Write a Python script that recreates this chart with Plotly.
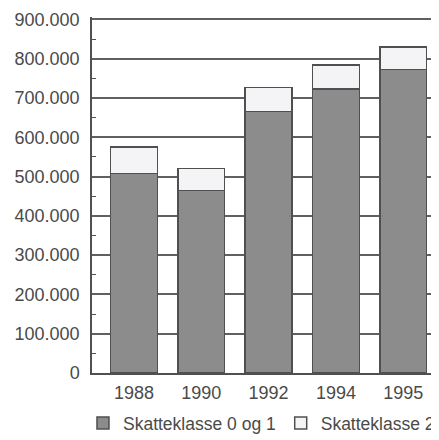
import plotly.graph_objects as go

years = ["1988", "1990", "1992", "1994", "1995"]
klasse_0_og_1 = [508000, 464000, 665000, 723000, 772000]
klasse_2 = [67000, 56000, 62000, 61000, 58000]
series_names = ["Skatteklasse 0 og 1", "Skatteklasse 2"]

dark = "#8c8c8c"
light = "#f4f4f6"
edge = "#505050"
txt = "#4a4a4a"
FONT = "Liberation Sans, Arial, Helvetica, sans-serif"

fig = go.Figure()
fig.add_trace(go.Bar(x=years, y=klasse_0_og_1, name=series_names[0], width=0.694,
                     marker=dict(color=dark, line=dict(color=edge, width=1.5))))
fig.add_trace(go.Bar(x=years, y=klasse_2, name=series_names[1], width=0.694,
                     marker=dict(color=light, line=dict(color=edge, width=1.5))))

fig.update_layout(
    barmode="stack",
    width=431, height=432,
    margin=dict(l=84, r=0, t=9, b=67, autoexpand=False),
    paper_bgcolor="white", plot_bgcolor="white",
    separators=",.",
    font=dict(family=FONT, size=18, color=txt),
    showlegend=True,
    legend=dict(orientation="h", x=-0.026, xanchor="left", y=-0.09, yanchor="top",
                font=dict(size=17.5, color=txt), traceorder="normal",
                itemwidth=30, tracegroupgap=0, bgcolor="rgba(0,0,0,0)"),
    xaxis=dict(type="category", range=[-0.624, 4.532], showgrid=False, automargin=False,
               showline=True, linecolor=edge, linewidth=1.5,
               ticks="", ticklabelstandoff=3, tickfont=dict(size=18, color=txt)),
    yaxis=dict(range=[0, 906000], dtick=100000, tick0=0, tickformat=",d", automargin=False,
               showgrid=True, gridcolor="#606060", gridwidth=1.5,
               showline=True, linecolor=edge, linewidth=1.5,
               ticks="", ticklabelstandoff=7, zeroline=False,
               tickfont=dict(size=18, color=txt),
               minor=dict(ticks="inside", ticklen=4, dtick=50000, tick0=0,
                          tickcolor=edge, tickwidth=1.2, showgrid=False)),
)

fig.write_html("out.html")
